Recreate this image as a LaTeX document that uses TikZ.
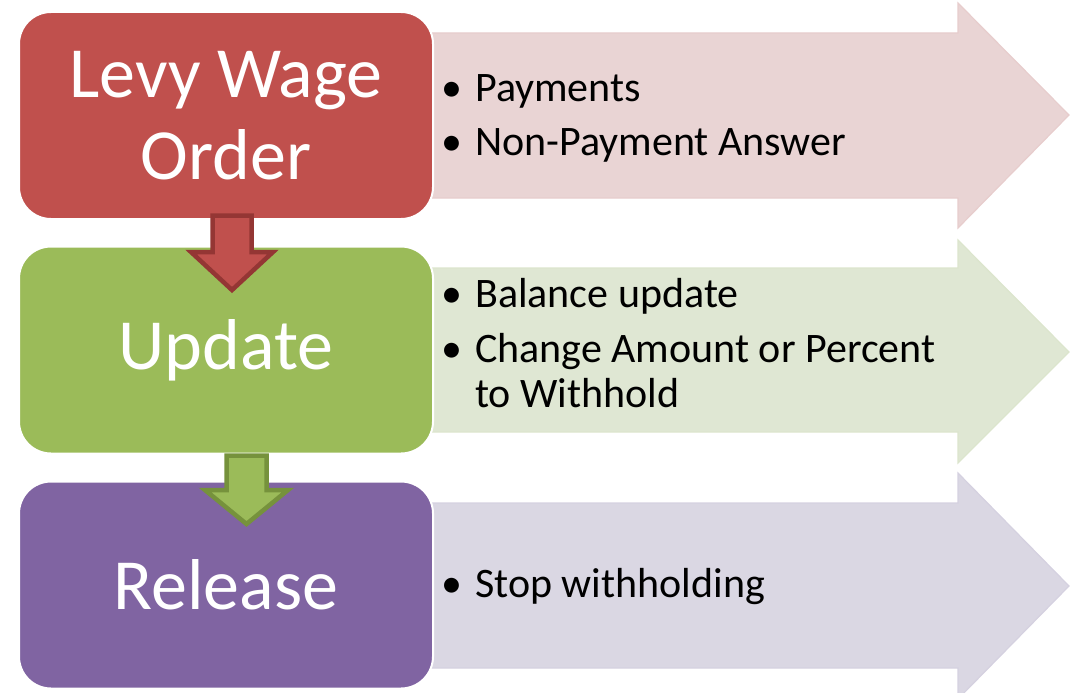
\documentclass[tikz,border=0pt]{standalone}
\usepackage{fontspec}
\setmainfont{Carlito}
\usetikzlibrary{positioning}

\definecolor{levyred}{HTML}{C0504D}
\definecolor{updgreen}{HTML}{9BBB59}
\definecolor{relpurple}{HTML}{8064A2}
\definecolor{levylight}{HTML}{E9D4D4}
\definecolor{updlight}{HTML}{DFE7D3}
\definecolor{rellight}{HTML}{DAD7E3}
\definecolor{levydark}{HTML}{943634}
\definecolor{upddark}{HTML}{76923C}

\tikzset{
  stagebox/.style={draw=white, line width=2pt, rounded corners=32pt,
    minimum width=414pt, minimum height=207pt, inner sep=0pt,
    text=white, align=center, font=\fontsize{72}{82}\selectfont},
  bigarrow/.style={line width=1.2pt},
  downarrow/.style={line width=4.5pt, line join=miter},
  itemtext/.style={anchor=base west, inner sep=0pt, font=\fontsize{42}{45}\selectfont}
}

\begin{document}
\begin{tikzpicture}[x=1pt,y=-1pt]
\useasboundingbox (0,0) rectangle (1074,693); % frame of the page
\clip (0,0) rectangle (1074,693);

% wide arrows behind the boxes
\draw[bigarrow, fill=levylight, draw=levylight!95!levyred]
  (425,33) -- (958,33) -- (958,3) -- (1069,115) -- (958,228) -- (958,198) -- (425,198) -- cycle;
\draw[bigarrow, fill=updlight, draw=updlight!95!updgreen]
  (425,268) -- (958,268) -- (958,240) -- (1069,352) -- (958,463) -- (958,432) -- (425,432) -- cycle;
\draw[bigarrow, fill=rellight, draw=rellight!95!relpurple]
  (425,503) -- (958,503) -- (958,473) -- (1069,586) -- (958,699) -- (958,668) -- (425,668) -- cycle;

% stages
\node[stagebox, fill=levyred]   (levy)    at (226,115.5) {Levy Wage\\Order};
\node[stagebox, fill=updgreen]  (update)  at (226,350)   {Update};
\node[stagebox, fill=relpurple] (release) at (226,585)   {Release};

% block arrows between the stages
\draw[downarrow, fill=levyred, draw=levydark]
  (212.5,215.5) -- (251.5,215.5) -- (251.5,252) -- (273,252) -- (232,290) -- (191,252) -- (212.5,252) -- cycle;
\draw[downarrow, fill=updgreen, draw=upddark]
  (226.5,455.5) -- (266.5,455.5) -- (266.5,490) -- (288,490) -- (246.5,524) -- (205,490) -- (226.5,490) -- cycle;

% bullet texts
\node[itemtext] (b1)  at (441,101) {•};
\node[itemtext] (pay) at (475,101) {Payments};
\node[itemtext] (b2)  at (441,155) {•};
\node[itemtext] (non) at (475,155) {Non-Payment Answer};

\node[itemtext] (b3)  at (441,307) {•};
\node[itemtext] (bal) at (475,307) {Balance update};
\node[itemtext] (b4)  at (441,362) {•};
\node[itemtext] (chg) at (475,362) {Change Amount or Percent};
\node[itemtext] (wth) at (475,407) {to Withhold};

\node[itemtext] (b5)  at (441,597) {•};
\node[itemtext] (stp) at (475,597) {Stop withholding};
\end{tikzpicture}
\end{document}
